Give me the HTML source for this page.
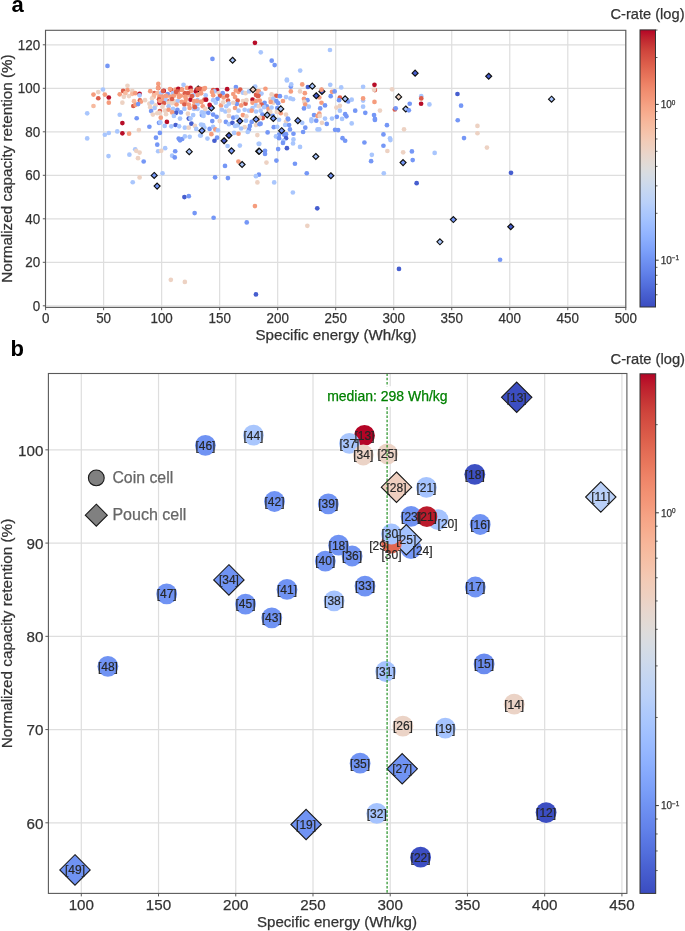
<!DOCTYPE html><html><head><meta charset="utf-8"><style>html,body{margin:0;padding:0;background:#fff;width:685px;height:931px;overflow:hidden}</style></head><body><svg width="685" height="931" viewBox="0 0 685 931" style="display:block;will-change:transform;font-family:'Liberation Sans', sans-serif">
<defs><linearGradient id="cb" x1="0" y1="0" x2="0" y2="1"><stop offset="0.0000" stop-color="#b40426"/><stop offset="0.0250" stop-color="#bd1f2d"/><stop offset="0.0500" stop-color="#c53334"/><stop offset="0.0750" stop-color="#cf453c"/><stop offset="0.1000" stop-color="#d65244"/><stop offset="0.1250" stop-color="#dd5f4b"/><stop offset="0.1500" stop-color="#e36c55"/><stop offset="0.1750" stop-color="#e9785d"/><stop offset="0.2000" stop-color="#ee8468"/><stop offset="0.2250" stop-color="#f18f71"/><stop offset="0.2500" stop-color="#f4987a"/><stop offset="0.2750" stop-color="#f6a385"/><stop offset="0.3000" stop-color="#f7ac8e"/><stop offset="0.3250" stop-color="#f7b599"/><stop offset="0.3500" stop-color="#f6bda2"/><stop offset="0.3750" stop-color="#f5c4ac"/><stop offset="0.4000" stop-color="#f2cbb7"/><stop offset="0.4250" stop-color="#eed0c0"/><stop offset="0.4500" stop-color="#e9d5cb"/><stop offset="0.4750" stop-color="#e3d9d3"/><stop offset="0.5000" stop-color="#dddcdc"/><stop offset="0.5250" stop-color="#d6dce4"/><stop offset="0.5500" stop-color="#cfdaea"/><stop offset="0.5750" stop-color="#c7d7f0"/><stop offset="0.6000" stop-color="#c0d4f5"/><stop offset="0.6250" stop-color="#b9d0f9"/><stop offset="0.6500" stop-color="#afcafc"/><stop offset="0.6750" stop-color="#a7c5fe"/><stop offset="0.7000" stop-color="#9ebeff"/><stop offset="0.7250" stop-color="#96b7ff"/><stop offset="0.7500" stop-color="#8db0fe"/><stop offset="0.7750" stop-color="#84a7fc"/><stop offset="0.8000" stop-color="#7b9ff9"/><stop offset="0.8250" stop-color="#7295f4"/><stop offset="0.8500" stop-color="#6a8bef"/><stop offset="0.8750" stop-color="#6282ea"/><stop offset="0.9000" stop-color="#5977e3"/><stop offset="0.9250" stop-color="#516ddb"/><stop offset="0.9500" stop-color="#4961d2"/><stop offset="0.9750" stop-color="#4257c9"/><stop offset="1.0000" stop-color="#3b4cc0"/></linearGradient></defs>
<line x1="45.60" y1="30.0" x2="45.60" y2="307.4" stroke="#dedede" stroke-width="1.2"/>
<line x1="103.62" y1="30.0" x2="103.62" y2="307.4" stroke="#dedede" stroke-width="1.2"/>
<line x1="161.64" y1="30.0" x2="161.64" y2="307.4" stroke="#dedede" stroke-width="1.2"/>
<line x1="219.66" y1="30.0" x2="219.66" y2="307.4" stroke="#dedede" stroke-width="1.2"/>
<line x1="277.68" y1="30.0" x2="277.68" y2="307.4" stroke="#dedede" stroke-width="1.2"/>
<line x1="335.70" y1="30.0" x2="335.70" y2="307.4" stroke="#dedede" stroke-width="1.2"/>
<line x1="393.72" y1="30.0" x2="393.72" y2="307.4" stroke="#dedede" stroke-width="1.2"/>
<line x1="451.74" y1="30.0" x2="451.74" y2="307.4" stroke="#dedede" stroke-width="1.2"/>
<line x1="509.76" y1="30.0" x2="509.76" y2="307.4" stroke="#dedede" stroke-width="1.2"/>
<line x1="567.78" y1="30.0" x2="567.78" y2="307.4" stroke="#dedede" stroke-width="1.2"/>
<line x1="625.80" y1="30.0" x2="625.80" y2="307.4" stroke="#dedede" stroke-width="1.2"/>
<line x1="45.6" y1="305.80" x2="625.8" y2="305.80" stroke="#dedede" stroke-width="1.2"/>
<line x1="45.6" y1="262.30" x2="625.8" y2="262.30" stroke="#dedede" stroke-width="1.2"/>
<line x1="45.6" y1="218.80" x2="625.8" y2="218.80" stroke="#dedede" stroke-width="1.2"/>
<line x1="45.6" y1="175.30" x2="625.8" y2="175.30" stroke="#dedede" stroke-width="1.2"/>
<line x1="45.6" y1="131.80" x2="625.8" y2="131.80" stroke="#dedede" stroke-width="1.2"/>
<line x1="45.6" y1="88.30" x2="625.8" y2="88.30" stroke="#dedede" stroke-width="1.2"/>
<line x1="45.6" y1="44.80" x2="625.8" y2="44.80" stroke="#dedede" stroke-width="1.2"/>
<g>
<path d="M198.14 85.95L201.14 88.95L198.14 91.95L195.14 88.95Z" fill="#b70d28" stroke="#111" stroke-width="1.15"/>
<path d="M211.38 105.02L214.38 108.02L211.38 111.02L208.38 108.02Z" fill="#7597f6" stroke="#111" stroke-width="1.15"/>
<path d="M321.94 88.38L324.94 91.38L321.94 94.38L318.94 91.38Z" fill="#465ecf" stroke="#111" stroke-width="1.15"/>
<path d="M405.77 106.01L408.77 109.01L405.77 112.01L402.77 109.01Z" fill="#a9c6fd" stroke="#111" stroke-width="1.15"/>
<circle cx="107.48" cy="65.91" r="2.35" fill="#7597f6"/>
<circle cx="102.96" cy="89.49" r="2.35" fill="#a9c6fd"/>
<circle cx="93.47" cy="94.60" r="2.35" fill="#f59c7d"/>
<circle cx="98.28" cy="92.12" r="2.35" fill="#edd2c3"/>
<circle cx="98.28" cy="98.25" r="2.35" fill="#dc5d4a"/>
<circle cx="104.85" cy="94.60" r="2.35" fill="#f59c7d"/>
<circle cx="108.80" cy="97.52" r="2.35" fill="#b70d28"/>
<circle cx="108.80" cy="102.63" r="2.35" fill="#f59c7d"/>
<circle cx="93.47" cy="105.99" r="2.35" fill="#f7ba9f"/>
<circle cx="87.19" cy="113.28" r="2.35" fill="#a9c6fd"/>
<circle cx="119.74" cy="94.31" r="2.35" fill="#f59c7d"/>
<circle cx="123.10" cy="90.95" r="2.35" fill="#dc5d4a"/>
<circle cx="127.48" cy="85.84" r="2.35" fill="#edd2c3"/>
<circle cx="127.48" cy="90.22" r="2.35" fill="#f59c7d"/>
<circle cx="125.29" cy="93.14" r="2.35" fill="#f7ba9f"/>
<circle cx="123.83" cy="96.79" r="2.35" fill="#edd2c3"/>
<circle cx="128.94" cy="96.06" r="2.35" fill="#edd2c3"/>
<circle cx="132.30" cy="90.95" r="2.35" fill="#edd2c3"/>
<circle cx="132.30" cy="93.87" r="2.35" fill="#f7ba9f"/>
<circle cx="135.22" cy="93.14" r="2.35" fill="#f59c7d"/>
<circle cx="139.60" cy="93.87" r="2.35" fill="#b70d28"/>
<circle cx="139.60" cy="95.33" r="2.35" fill="#a9c6fd"/>
<circle cx="122.37" cy="102.63" r="2.35" fill="#edd2c3"/>
<circle cx="134.05" cy="101.17" r="2.35" fill="#f7ba9f"/>
<circle cx="139.89" cy="100.44" r="2.35" fill="#dc5d4a"/>
<circle cx="141.06" cy="101.61" r="2.35" fill="#f59c7d"/>
<circle cx="133.32" cy="105.99" r="2.35" fill="#dc5d4a"/>
<circle cx="135.51" cy="104.82" r="2.35" fill="#f59c7d"/>
<circle cx="138.14" cy="104.09" r="2.35" fill="#7597f6"/>
<circle cx="119.74" cy="114.74" r="2.35" fill="#a9c6fd"/>
<circle cx="136.68" cy="118.25" r="2.35" fill="#7597f6"/>
<circle cx="122.37" cy="123.07" r="2.35" fill="#b70d28"/>
<circle cx="138.87" cy="130.07" r="2.35" fill="#edd2c3"/>
<circle cx="117.26" cy="131.39" r="2.35" fill="#a9c6fd"/>
<circle cx="108.80" cy="132.99" r="2.35" fill="#a9c6fd"/>
<circle cx="104.85" cy="134.74" r="2.35" fill="#a9c6fd"/>
<circle cx="122.37" cy="133.28" r="2.35" fill="#b70d28"/>
<circle cx="129.09" cy="133.72" r="2.35" fill="#f59c7d"/>
<circle cx="87.19" cy="138.39" r="2.35" fill="#a9c6fd"/>
<circle cx="135.22" cy="149.34" r="2.35" fill="#a9c6fd"/>
<circle cx="136.24" cy="150.84" r="2.35" fill="#edd2c3"/>
<circle cx="139.60" cy="152.59" r="2.35" fill="#edd2c3"/>
<circle cx="108.50" cy="156.09" r="2.35" fill="#a9c6fd"/>
<circle cx="129.38" cy="154.64" r="2.35" fill="#a9c6fd"/>
<circle cx="137.99" cy="158.14" r="2.35" fill="#edd2c3"/>
<circle cx="143.69" cy="161.50" r="2.35" fill="#7597f6"/>
<circle cx="139.60" cy="177.41" r="2.35" fill="#edd2c3"/>
<circle cx="132.74" cy="182.23" r="2.35" fill="#a9c6fd"/>
<circle cx="212.45" cy="58.91" r="2.35" fill="#7597f6"/>
<circle cx="158.31" cy="83.94" r="2.35" fill="#f59c7d"/>
<circle cx="158.31" cy="88.06" r="2.35" fill="#dc5d4a"/>
<circle cx="150.25" cy="91.21" r="2.35" fill="#f59c7d"/>
<circle cx="154.63" cy="93.13" r="2.35" fill="#dc5d4a"/>
<circle cx="157.26" cy="93.13" r="2.35" fill="#f7ba9f"/>
<circle cx="161.20" cy="93.13" r="2.35" fill="#a9c6fd"/>
<circle cx="163.83" cy="90.95" r="2.35" fill="#b70d28"/>
<circle cx="167.77" cy="94.01" r="2.35" fill="#7597f6"/>
<circle cx="171.27" cy="90.07" r="2.35" fill="#dc5d4a"/>
<circle cx="173.02" cy="93.13" r="2.35" fill="#a9c6fd"/>
<circle cx="175.65" cy="89.63" r="2.35" fill="#f59c7d"/>
<circle cx="178.27" cy="88.76" r="2.35" fill="#b70d28"/>
<circle cx="177.40" cy="91.38" r="2.35" fill="#dc5d4a"/>
<circle cx="181.78" cy="89.63" r="2.35" fill="#dc5d4a"/>
<circle cx="184.84" cy="93.13" r="2.35" fill="#dc5d4a"/>
<circle cx="183.53" cy="84.82" r="2.35" fill="#a9c6fd"/>
<circle cx="187.03" cy="87.88" r="2.35" fill="#f59c7d"/>
<circle cx="190.53" cy="87.88" r="2.35" fill="#b70d28"/>
<circle cx="190.97" cy="90.95" r="2.35" fill="#f59c7d"/>
<circle cx="195.79" cy="91.38" r="2.35" fill="#b70d28"/>
<circle cx="197.54" cy="88.76" r="2.35" fill="#dc5d4a"/>
<circle cx="199.29" cy="88.76" r="2.35" fill="#dc5d4a"/>
<circle cx="202.79" cy="88.76" r="2.35" fill="#f59c7d"/>
<circle cx="201.04" cy="93.13" r="2.35" fill="#f59c7d"/>
<circle cx="197.54" cy="94.89" r="2.35" fill="#f59c7d"/>
<circle cx="193.16" cy="95.32" r="2.35" fill="#a9c6fd"/>
<circle cx="188.78" cy="94.89" r="2.35" fill="#f7ba9f"/>
<circle cx="185.28" cy="96.64" r="2.35" fill="#f59c7d"/>
<circle cx="180.90" cy="95.76" r="2.35" fill="#f59c7d"/>
<circle cx="178.27" cy="94.01" r="2.35" fill="#f59c7d"/>
<circle cx="173.90" cy="95.76" r="2.35" fill="#f59c7d"/>
<circle cx="170.39" cy="96.64" r="2.35" fill="#f59c7d"/>
<circle cx="166.02" cy="95.76" r="2.35" fill="#f59c7d"/>
<circle cx="162.51" cy="96.64" r="2.35" fill="#f59c7d"/>
<circle cx="159.45" cy="96.64" r="2.35" fill="#f59c7d"/>
<circle cx="153.76" cy="96.64" r="2.35" fill="#f7ba9f"/>
<circle cx="152.01" cy="98.39" r="2.35" fill="#edd2c3"/>
<circle cx="159.01" cy="99.26" r="2.35" fill="#dc5d4a"/>
<circle cx="163.83" cy="100.14" r="2.35" fill="#f59c7d"/>
<circle cx="166.02" cy="100.14" r="2.35" fill="#a9c6fd"/>
<circle cx="169.52" cy="101.02" r="2.35" fill="#dc5d4a"/>
<circle cx="171.27" cy="99.26" r="2.35" fill="#edd2c3"/>
<circle cx="173.90" cy="101.02" r="2.35" fill="#edd2c3"/>
<circle cx="177.84" cy="101.02" r="2.35" fill="#a9c6fd"/>
<circle cx="181.78" cy="101.89" r="2.35" fill="#f59c7d"/>
<circle cx="185.28" cy="101.89" r="2.35" fill="#f59c7d"/>
<circle cx="190.53" cy="99.70" r="2.35" fill="#b70d28"/>
<circle cx="194.04" cy="101.02" r="2.35" fill="#f59c7d"/>
<circle cx="197.54" cy="100.14" r="2.35" fill="#a9c6fd"/>
<circle cx="201.04" cy="101.89" r="2.35" fill="#f59c7d"/>
<circle cx="204.54" cy="99.70" r="2.35" fill="#dc5d4a"/>
<circle cx="159.45" cy="102.94" r="2.35" fill="#b70d28"/>
<circle cx="163.83" cy="103.20" r="2.35" fill="#dc5d4a"/>
<circle cx="168.64" cy="102.94" r="2.35" fill="#edd2c3"/>
<circle cx="172.15" cy="103.20" r="2.35" fill="#edd2c3"/>
<circle cx="176.52" cy="104.52" r="2.35" fill="#f59c7d"/>
<circle cx="184.40" cy="104.52" r="2.35" fill="#dc5d4a"/>
<circle cx="188.78" cy="104.52" r="2.35" fill="#f59c7d"/>
<circle cx="194.04" cy="105.39" r="2.35" fill="#f59c7d"/>
<circle cx="197.54" cy="104.08" r="2.35" fill="#a9c6fd"/>
<circle cx="202.79" cy="106.27" r="2.35" fill="#f59c7d"/>
<circle cx="145.00" cy="100.14" r="2.35" fill="#edd2c3"/>
<circle cx="149.38" cy="103.64" r="2.35" fill="#edd2c3"/>
<circle cx="152.01" cy="102.33" r="2.35" fill="#a9c6fd"/>
<circle cx="155.51" cy="105.39" r="2.35" fill="#edd2c3"/>
<circle cx="150.25" cy="107.15" r="2.35" fill="#edd2c3"/>
<circle cx="154.63" cy="108.02" r="2.35" fill="#a9c6fd"/>
<circle cx="162.51" cy="106.71" r="2.35" fill="#edd2c3"/>
<circle cx="168.64" cy="106.27" r="2.35" fill="#a9c6fd"/>
<circle cx="173.02" cy="108.90" r="2.35" fill="#a9c6fd"/>
<circle cx="177.40" cy="109.77" r="2.35" fill="#7597f6"/>
<circle cx="180.90" cy="112.40" r="2.35" fill="#7597f6"/>
<circle cx="176.09" cy="112.84" r="2.35" fill="#465ecf"/>
<circle cx="184.40" cy="108.90" r="2.35" fill="#a9c6fd"/>
<circle cx="189.66" cy="108.02" r="2.35" fill="#f59c7d"/>
<circle cx="194.04" cy="108.90" r="2.35" fill="#a9c6fd"/>
<circle cx="197.54" cy="108.90" r="2.35" fill="#a9c6fd"/>
<circle cx="194.91" cy="107.15" r="2.35" fill="#dc5d4a"/>
<circle cx="204.54" cy="112.40" r="2.35" fill="#a9c6fd"/>
<circle cx="201.92" cy="115.03" r="2.35" fill="#7597f6"/>
<circle cx="151.13" cy="111.09" r="2.35" fill="#7597f6"/>
<circle cx="159.89" cy="111.09" r="2.35" fill="#dc5d4a"/>
<circle cx="159.45" cy="112.84" r="2.35" fill="#edd2c3"/>
<circle cx="165.14" cy="110.65" r="2.35" fill="#edd2c3"/>
<circle cx="166.02" cy="114.15" r="2.35" fill="#edd2c3"/>
<circle cx="168.64" cy="109.77" r="2.35" fill="#f59c7d"/>
<circle cx="172.15" cy="112.40" r="2.35" fill="#f59c7d"/>
<circle cx="173.90" cy="115.90" r="2.35" fill="#a9c6fd"/>
<circle cx="180.03" cy="118.53" r="2.35" fill="#a9c6fd"/>
<circle cx="187.91" cy="113.71" r="2.35" fill="#edd2c3"/>
<circle cx="188.78" cy="118.53" r="2.35" fill="#465ecf"/>
<circle cx="193.16" cy="115.03" r="2.35" fill="#a9c6fd"/>
<circle cx="152.88" cy="114.59" r="2.35" fill="#edd2c3"/>
<circle cx="160.76" cy="117.65" r="2.35" fill="#f59c7d"/>
<circle cx="157.26" cy="113.27" r="2.35" fill="#edd2c3"/>
<circle cx="190.53" cy="118.53" r="2.35" fill="#a9c6fd"/>
<circle cx="200.00" cy="88.76" r="2.35" fill="#dc5d4a"/>
<circle cx="203.94" cy="89.19" r="2.35" fill="#f59c7d"/>
<circle cx="200.88" cy="93.13" r="2.35" fill="#f59c7d"/>
<circle cx="205.69" cy="95.32" r="2.35" fill="#a9c6fd"/>
<circle cx="206.13" cy="99.70" r="2.35" fill="#b70d28"/>
<circle cx="201.31" cy="101.89" r="2.35" fill="#f59c7d"/>
<circle cx="209.63" cy="104.96" r="2.35" fill="#b70d28"/>
<circle cx="205.25" cy="108.90" r="2.35" fill="#edd2c3"/>
<circle cx="213.13" cy="90.07" r="2.35" fill="#dc5d4a"/>
<circle cx="217.08" cy="90.07" r="2.35" fill="#b70d28"/>
<circle cx="214.45" cy="91.38" r="2.35" fill="#a9c6fd"/>
<circle cx="218.83" cy="93.13" r="2.35" fill="#edd2c3"/>
<circle cx="222.77" cy="93.13" r="2.35" fill="#7597f6"/>
<circle cx="213.13" cy="95.32" r="2.35" fill="#f59c7d"/>
<circle cx="220.14" cy="95.76" r="2.35" fill="#dc5d4a"/>
<circle cx="217.51" cy="98.83" r="2.35" fill="#7597f6"/>
<circle cx="223.64" cy="97.51" r="2.35" fill="#f59c7d"/>
<circle cx="227.15" cy="95.76" r="2.35" fill="#dc5d4a"/>
<circle cx="227.15" cy="89.19" r="2.35" fill="#b70d28"/>
<circle cx="228.02" cy="100.58" r="2.35" fill="#dc5d4a"/>
<circle cx="213.13" cy="100.14" r="2.35" fill="#a9c6fd"/>
<circle cx="215.76" cy="102.77" r="2.35" fill="#a9c6fd"/>
<circle cx="221.02" cy="105.39" r="2.35" fill="#f59c7d"/>
<circle cx="223.20" cy="102.33" r="2.35" fill="#edd2c3"/>
<circle cx="228.90" cy="103.64" r="2.35" fill="#a9c6fd"/>
<circle cx="226.27" cy="106.27" r="2.35" fill="#a9c6fd"/>
<circle cx="221.89" cy="109.77" r="2.35" fill="#a9c6fd"/>
<circle cx="225.39" cy="111.52" r="2.35" fill="#a9c6fd"/>
<circle cx="228.90" cy="110.65" r="2.35" fill="#edd2c3"/>
<circle cx="228.90" cy="115.90" r="2.35" fill="#edd2c3"/>
<circle cx="201.75" cy="112.40" r="2.35" fill="#a9c6fd"/>
<circle cx="208.32" cy="112.84" r="2.35" fill="#7597f6"/>
<circle cx="213.13" cy="114.59" r="2.35" fill="#7597f6"/>
<circle cx="216.64" cy="116.78" r="2.35" fill="#7597f6"/>
<circle cx="203.50" cy="115.90" r="2.35" fill="#a9c6fd"/>
<circle cx="233.27" cy="117.65" r="2.35" fill="#7597f6"/>
<circle cx="235.90" cy="87.01" r="2.35" fill="#7597f6"/>
<circle cx="235.90" cy="90.51" r="2.35" fill="#f59c7d"/>
<circle cx="238.53" cy="91.82" r="2.35" fill="#f59c7d"/>
<circle cx="240.28" cy="89.63" r="2.35" fill="#dc5d4a"/>
<circle cx="242.91" cy="92.70" r="2.35" fill="#a9c6fd"/>
<circle cx="245.53" cy="93.13" r="2.35" fill="#edd2c3"/>
<circle cx="233.27" cy="94.01" r="2.35" fill="#f59c7d"/>
<circle cx="235.03" cy="97.08" r="2.35" fill="#f59c7d"/>
<circle cx="237.65" cy="100.58" r="2.35" fill="#dc5d4a"/>
<circle cx="236.78" cy="104.08" r="2.35" fill="#7597f6"/>
<circle cx="233.27" cy="102.77" r="2.35" fill="#edd2c3"/>
<circle cx="241.16" cy="105.39" r="2.35" fill="#f59c7d"/>
<circle cx="235.03" cy="108.02" r="2.35" fill="#f59c7d"/>
<circle cx="238.53" cy="110.65" r="2.35" fill="#a9c6fd"/>
<circle cx="242.91" cy="101.02" r="2.35" fill="#edd2c3"/>
<circle cx="245.53" cy="103.64" r="2.35" fill="#dc5d4a"/>
<circle cx="246.41" cy="100.14" r="2.35" fill="#edd2c3"/>
<circle cx="249.04" cy="91.38" r="2.35" fill="#a9c6fd"/>
<circle cx="252.54" cy="99.70" r="2.35" fill="#b70d28"/>
<circle cx="256.04" cy="94.89" r="2.35" fill="#dc5d4a"/>
<circle cx="257.79" cy="96.20" r="2.35" fill="#dc5d4a"/>
<circle cx="257.79" cy="91.38" r="2.35" fill="#f59c7d"/>
<circle cx="255.17" cy="86.57" r="2.35" fill="#a9c6fd"/>
<circle cx="256.04" cy="101.02" r="2.35" fill="#f59c7d"/>
<circle cx="252.54" cy="102.77" r="2.35" fill="#f59c7d"/>
<circle cx="256.04" cy="105.39" r="2.35" fill="#a9c6fd"/>
<circle cx="252.54" cy="108.02" r="2.35" fill="#a9c6fd"/>
<circle cx="244.66" cy="109.77" r="2.35" fill="#a9c6fd"/>
<circle cx="249.04" cy="110.65" r="2.35" fill="#a9c6fd"/>
<circle cx="251.66" cy="110.65" r="2.35" fill="#f59c7d"/>
<circle cx="256.04" cy="111.52" r="2.35" fill="#a9c6fd"/>
<circle cx="242.91" cy="115.03" r="2.35" fill="#f59c7d"/>
<circle cx="246.41" cy="116.34" r="2.35" fill="#edd2c3"/>
<circle cx="236.78" cy="116.78" r="2.35" fill="#a9c6fd"/>
<circle cx="159.01" cy="122.82" r="2.35" fill="#7597f6"/>
<circle cx="160.32" cy="122.38" r="2.35" fill="#a9c6fd"/>
<circle cx="166.89" cy="121.94" r="2.35" fill="#b70d28"/>
<circle cx="164.70" cy="125.88" r="2.35" fill="#a9c6fd"/>
<circle cx="171.27" cy="126.32" r="2.35" fill="#a9c6fd"/>
<circle cx="175.65" cy="125.01" r="2.35" fill="#465ecf"/>
<circle cx="179.15" cy="126.32" r="2.35" fill="#a9c6fd"/>
<circle cx="149.38" cy="126.76" r="2.35" fill="#7597f6"/>
<circle cx="184.84" cy="127.63" r="2.35" fill="#a9c6fd"/>
<circle cx="188.78" cy="127.63" r="2.35" fill="#edd2c3"/>
<circle cx="191.41" cy="123.69" r="2.35" fill="#465ecf"/>
<circle cx="194.91" cy="125.88" r="2.35" fill="#edd2c3"/>
<circle cx="196.23" cy="128.95" r="2.35" fill="#a9c6fd"/>
<circle cx="201.04" cy="124.57" r="2.35" fill="#a9c6fd"/>
<circle cx="203.23" cy="125.01" r="2.35" fill="#a9c6fd"/>
<circle cx="200.17" cy="135.51" r="2.35" fill="#a9c6fd"/>
<circle cx="159.89" cy="132.89" r="2.35" fill="#7597f6"/>
<circle cx="155.95" cy="137.70" r="2.35" fill="#7597f6"/>
<circle cx="157.26" cy="144.71" r="2.35" fill="#7597f6"/>
<circle cx="165.14" cy="148.21" r="2.35" fill="#a9c6fd"/>
<circle cx="158.13" cy="151.27" r="2.35" fill="#a9c6fd"/>
<circle cx="161.20" cy="150.84" r="2.35" fill="#edd2c3"/>
<circle cx="175.21" cy="151.27" r="2.35" fill="#7597f6"/>
<circle cx="172.15" cy="155.65" r="2.35" fill="#a9c6fd"/>
<circle cx="174.77" cy="157.40" r="2.35" fill="#7597f6"/>
<circle cx="178.71" cy="138.58" r="2.35" fill="#7597f6"/>
<circle cx="180.03" cy="140.33" r="2.35" fill="#7597f6"/>
<circle cx="182.22" cy="139.02" r="2.35" fill="#7597f6"/>
<circle cx="184.84" cy="136.39" r="2.35" fill="#a9c6fd"/>
<circle cx="189.66" cy="136.83" r="2.35" fill="#a9c6fd"/>
<circle cx="212.26" cy="121.06" r="2.35" fill="#7597f6"/>
<circle cx="219.70" cy="121.06" r="2.35" fill="#edd2c3"/>
<circle cx="225.83" cy="121.94" r="2.35" fill="#7597f6"/>
<circle cx="228.90" cy="124.13" r="2.35" fill="#a9c6fd"/>
<circle cx="232.40" cy="122.82" r="2.35" fill="#465ecf"/>
<circle cx="235.03" cy="125.88" r="2.35" fill="#a9c6fd"/>
<circle cx="237.65" cy="125.44" r="2.35" fill="#a9c6fd"/>
<circle cx="245.97" cy="120.63" r="2.35" fill="#a9c6fd"/>
<circle cx="251.66" cy="121.94" r="2.35" fill="#7597f6"/>
<circle cx="249.91" cy="125.88" r="2.35" fill="#7597f6"/>
<circle cx="256.04" cy="125.01" r="2.35" fill="#edd2c3"/>
<circle cx="244.66" cy="127.19" r="2.35" fill="#edd2c3"/>
<circle cx="241.16" cy="128.51" r="2.35" fill="#a9c6fd"/>
<circle cx="249.04" cy="129.38" r="2.35" fill="#7597f6"/>
<circle cx="247.72" cy="132.01" r="2.35" fill="#a9c6fd"/>
<circle cx="257.79" cy="119.31" r="2.35" fill="#f59c7d"/>
<circle cx="259.54" cy="124.13" r="2.35" fill="#7597f6"/>
<circle cx="202.63" cy="125.01" r="2.35" fill="#a9c6fd"/>
<circle cx="204.38" cy="127.63" r="2.35" fill="#a9c6fd"/>
<circle cx="209.63" cy="128.95" r="2.35" fill="#7597f6"/>
<circle cx="213.13" cy="126.76" r="2.35" fill="#a9c6fd"/>
<circle cx="215.32" cy="129.38" r="2.35" fill="#f59c7d"/>
<circle cx="217.95" cy="130.26" r="2.35" fill="#a9c6fd"/>
<circle cx="211.38" cy="134.20" r="2.35" fill="#f59c7d"/>
<circle cx="200.88" cy="135.51" r="2.35" fill="#a9c6fd"/>
<circle cx="207.44" cy="138.58" r="2.35" fill="#a9c6fd"/>
<circle cx="217.08" cy="137.70" r="2.35" fill="#7597f6"/>
<circle cx="214.45" cy="140.77" r="2.35" fill="#465ecf"/>
<circle cx="234.15" cy="132.89" r="2.35" fill="#a9c6fd"/>
<circle cx="238.53" cy="133.76" r="2.35" fill="#f59c7d"/>
<circle cx="227.58" cy="146.02" r="2.35" fill="#a9c6fd"/>
<circle cx="239.84" cy="145.58" r="2.35" fill="#a9c6fd"/>
<circle cx="257.36" cy="135.08" r="2.35" fill="#edd2c3"/>
<circle cx="258.67" cy="143.83" r="2.35" fill="#a9c6fd"/>
<circle cx="162.52" cy="173.25" r="2.35" fill="#a9c6fd"/>
<circle cx="184.42" cy="197.04" r="2.35" fill="#465ecf"/>
<circle cx="188.80" cy="196.17" r="2.35" fill="#7597f6"/>
<circle cx="194.64" cy="213.10" r="2.35" fill="#7597f6"/>
<circle cx="213.61" cy="217.77" r="2.35" fill="#7597f6"/>
<circle cx="215.07" cy="177.34" r="2.35" fill="#7597f6"/>
<circle cx="225.00" cy="165.95" r="2.35" fill="#7597f6"/>
<circle cx="227.92" cy="178.07" r="2.35" fill="#7597f6"/>
<circle cx="238.43" cy="161.57" r="2.35" fill="#f59c7d"/>
<circle cx="170.84" cy="279.85" r="2.35" fill="#edd2c3"/>
<circle cx="184.85" cy="281.90" r="2.35" fill="#edd2c3"/>
<circle cx="254.93" cy="42.85" r="2.35" fill="#b70d28"/>
<circle cx="260.77" cy="52.34" r="2.35" fill="#a9c6fd"/>
<circle cx="271.72" cy="60.66" r="2.35" fill="#7597f6"/>
<circle cx="274.64" cy="65.04" r="2.35" fill="#7597f6"/>
<circle cx="300.18" cy="70.58" r="2.35" fill="#a9c6fd"/>
<circle cx="286.90" cy="79.64" r="2.35" fill="#a9c6fd"/>
<circle cx="329.96" cy="50.00" r="2.35" fill="#a9c6fd"/>
<circle cx="265.44" cy="88.76" r="2.35" fill="#f59c7d"/>
<circle cx="258.88" cy="91.38" r="2.35" fill="#f59c7d"/>
<circle cx="261.50" cy="93.57" r="2.35" fill="#a9c6fd"/>
<circle cx="258.44" cy="95.76" r="2.35" fill="#dc5d4a"/>
<circle cx="259.75" cy="100.58" r="2.35" fill="#f59c7d"/>
<circle cx="264.57" cy="102.77" r="2.35" fill="#7597f6"/>
<circle cx="261.50" cy="104.52" r="2.35" fill="#dc5d4a"/>
<circle cx="266.76" cy="106.27" r="2.35" fill="#7597f6"/>
<circle cx="264.13" cy="107.15" r="2.35" fill="#a9c6fd"/>
<circle cx="268.51" cy="108.90" r="2.35" fill="#f59c7d"/>
<circle cx="271.57" cy="107.58" r="2.35" fill="#a9c6fd"/>
<circle cx="258.88" cy="106.27" r="2.35" fill="#edd2c3"/>
<circle cx="260.63" cy="110.65" r="2.35" fill="#a9c6fd"/>
<circle cx="262.38" cy="114.59" r="2.35" fill="#7597f6"/>
<circle cx="270.26" cy="111.96" r="2.35" fill="#edd2c3"/>
<circle cx="272.89" cy="115.90" r="2.35" fill="#7597f6"/>
<circle cx="262.82" cy="118.09" r="2.35" fill="#dc5d4a"/>
<circle cx="259.75" cy="117.65" r="2.35" fill="#edd2c3"/>
<circle cx="271.57" cy="94.45" r="2.35" fill="#edd2c3"/>
<circle cx="274.20" cy="95.76" r="2.35" fill="#edd2c3"/>
<circle cx="276.39" cy="95.76" r="2.35" fill="#dc5d4a"/>
<circle cx="279.89" cy="96.20" r="2.35" fill="#7597f6"/>
<circle cx="270.26" cy="98.83" r="2.35" fill="#edd2c3"/>
<circle cx="273.32" cy="98.83" r="2.35" fill="#a9c6fd"/>
<circle cx="273.32" cy="102.77" r="2.35" fill="#edd2c3"/>
<circle cx="270.70" cy="101.89" r="2.35" fill="#f59c7d"/>
<circle cx="276.39" cy="101.02" r="2.35" fill="#7597f6"/>
<circle cx="278.14" cy="103.20" r="2.35" fill="#7597f6"/>
<circle cx="277.26" cy="108.02" r="2.35" fill="#7597f6"/>
<circle cx="276.83" cy="111.96" r="2.35" fill="#edd2c3"/>
<circle cx="280.77" cy="113.27" r="2.35" fill="#f59c7d"/>
<circle cx="286.02" cy="114.59" r="2.35" fill="#edd2c3"/>
<circle cx="282.96" cy="101.02" r="2.35" fill="#f59c7d"/>
<circle cx="286.02" cy="97.08" r="2.35" fill="#a9c6fd"/>
<circle cx="290.40" cy="98.39" r="2.35" fill="#a9c6fd"/>
<circle cx="293.03" cy="99.26" r="2.35" fill="#a9c6fd"/>
<circle cx="290.84" cy="91.38" r="2.35" fill="#f59c7d"/>
<circle cx="290.84" cy="86.57" r="2.35" fill="#7597f6"/>
<circle cx="291.27" cy="84.38" r="2.35" fill="#a9c6fd"/>
<circle cx="286.90" cy="80.44" r="2.35" fill="#a9c6fd"/>
<circle cx="302.22" cy="84.38" r="2.35" fill="#f59c7d"/>
<circle cx="300.03" cy="91.38" r="2.35" fill="#edd2c3"/>
<circle cx="304.85" cy="93.13" r="2.35" fill="#f59c7d"/>
<circle cx="307.91" cy="87.01" r="2.35" fill="#465ecf"/>
<circle cx="303.97" cy="98.83" r="2.35" fill="#f59c7d"/>
<circle cx="307.47" cy="100.14" r="2.35" fill="#7597f6"/>
<circle cx="304.41" cy="101.89" r="2.35" fill="#edd2c3"/>
<circle cx="305.29" cy="104.52" r="2.35" fill="#f59c7d"/>
<circle cx="308.79" cy="106.71" r="2.35" fill="#a9c6fd"/>
<circle cx="303.97" cy="108.46" r="2.35" fill="#7597f6"/>
<circle cx="314.04" cy="115.03" r="2.35" fill="#7597f6"/>
<circle cx="287.77" cy="118.53" r="2.35" fill="#7597f6"/>
<circle cx="311.42" cy="119.40" r="2.35" fill="#a9c6fd"/>
<circle cx="317.54" cy="115.90" r="2.35" fill="#f59c7d"/>
<circle cx="260.63" cy="123.69" r="2.35" fill="#7597f6"/>
<circle cx="267.63" cy="132.45" r="2.35" fill="#7597f6"/>
<circle cx="273.76" cy="127.19" r="2.35" fill="#7597f6"/>
<circle cx="277.26" cy="126.76" r="2.35" fill="#a9c6fd"/>
<circle cx="279.02" cy="119.75" r="2.35" fill="#a9c6fd"/>
<circle cx="286.02" cy="121.50" r="2.35" fill="#edd2c3"/>
<circle cx="288.21" cy="119.31" r="2.35" fill="#7597f6"/>
<circle cx="285.15" cy="125.01" r="2.35" fill="#a9c6fd"/>
<circle cx="289.09" cy="125.01" r="2.35" fill="#7597f6"/>
<circle cx="289.96" cy="129.38" r="2.35" fill="#7597f6"/>
<circle cx="279.02" cy="134.64" r="2.35" fill="#7597f6"/>
<circle cx="275.95" cy="136.39" r="2.35" fill="#a9c6fd"/>
<circle cx="279.02" cy="138.14" r="2.35" fill="#7597f6"/>
<circle cx="284.27" cy="134.64" r="2.35" fill="#7597f6"/>
<circle cx="286.02" cy="134.20" r="2.35" fill="#7597f6"/>
<circle cx="286.02" cy="138.14" r="2.35" fill="#465ecf"/>
<circle cx="283.39" cy="140.77" r="2.35" fill="#a9c6fd"/>
<circle cx="282.96" cy="142.96" r="2.35" fill="#7597f6"/>
<circle cx="293.46" cy="133.76" r="2.35" fill="#7597f6"/>
<circle cx="293.46" cy="139.45" r="2.35" fill="#a9c6fd"/>
<circle cx="293.03" cy="143.39" r="2.35" fill="#a9c6fd"/>
<circle cx="300.03" cy="146.90" r="2.35" fill="#a9c6fd"/>
<circle cx="286.90" cy="148.21" r="2.35" fill="#465ecf"/>
<circle cx="278.14" cy="149.09" r="2.35" fill="#7597f6"/>
<circle cx="265.01" cy="150.84" r="2.35" fill="#7597f6"/>
<circle cx="265.01" cy="153.90" r="2.35" fill="#7597f6"/>
<circle cx="259.31" cy="143.83" r="2.35" fill="#a9c6fd"/>
<circle cx="302.22" cy="122.82" r="2.35" fill="#a9c6fd"/>
<circle cx="305.29" cy="127.63" r="2.35" fill="#7597f6"/>
<circle cx="303.10" cy="132.01" r="2.35" fill="#7597f6"/>
<circle cx="311.42" cy="121.06" r="2.35" fill="#a9c6fd"/>
<circle cx="316.23" cy="120.63" r="2.35" fill="#7597f6"/>
<circle cx="317.54" cy="129.38" r="2.35" fill="#a9c6fd"/>
<circle cx="266.46" cy="162.59" r="2.35" fill="#edd2c3"/>
<circle cx="276.39" cy="160.55" r="2.35" fill="#7597f6"/>
<circle cx="294.93" cy="163.76" r="2.35" fill="#7597f6"/>
<circle cx="258.87" cy="174.71" r="2.35" fill="#7597f6"/>
<circle cx="255.95" cy="176.17" r="2.35" fill="#a9c6fd"/>
<circle cx="257.41" cy="182.45" r="2.35" fill="#edd2c3"/>
<circle cx="274.20" cy="182.45" r="2.35" fill="#a9c6fd"/>
<circle cx="306.75" cy="173.25" r="2.35" fill="#7597f6"/>
<circle cx="292.88" cy="192.52" r="2.35" fill="#a9c6fd"/>
<circle cx="254.93" cy="206.09" r="2.35" fill="#f59c7d"/>
<circle cx="317.26" cy="208.28" r="2.35" fill="#465ecf"/>
<circle cx="246.75" cy="222.45" r="2.35" fill="#7597f6"/>
<circle cx="307.34" cy="225.84" r="2.35" fill="#edd2c3"/>
<circle cx="255.95" cy="294.45" r="2.35" fill="#465ecf"/>
<circle cx="330.26" cy="84.82" r="2.35" fill="#a9c6fd"/>
<circle cx="341.20" cy="87.44" r="2.35" fill="#a9c6fd"/>
<circle cx="363.10" cy="86.83" r="2.35" fill="#a9c6fd"/>
<circle cx="374.48" cy="84.82" r="2.35" fill="#b70d28"/>
<circle cx="374.92" cy="90.07" r="2.35" fill="#dc5d4a"/>
<circle cx="374.04" cy="89.63" r="2.35" fill="#edd2c3"/>
<circle cx="321.50" cy="89.63" r="2.35" fill="#f59c7d"/>
<circle cx="319.31" cy="97.51" r="2.35" fill="#f59c7d"/>
<circle cx="332.01" cy="91.82" r="2.35" fill="#f59c7d"/>
<circle cx="334.64" cy="91.38" r="2.35" fill="#7597f6"/>
<circle cx="330.70" cy="96.20" r="2.35" fill="#7597f6"/>
<circle cx="339.89" cy="97.51" r="2.35" fill="#dc5d4a"/>
<circle cx="339.02" cy="100.14" r="2.35" fill="#7597f6"/>
<circle cx="348.21" cy="101.45" r="2.35" fill="#7597f6"/>
<circle cx="351.71" cy="99.70" r="2.35" fill="#a9c6fd"/>
<circle cx="321.50" cy="102.77" r="2.35" fill="#f59c7d"/>
<circle cx="325.01" cy="105.39" r="2.35" fill="#7597f6"/>
<circle cx="320.19" cy="108.46" r="2.35" fill="#7597f6"/>
<circle cx="319.31" cy="113.71" r="2.35" fill="#f59c7d"/>
<circle cx="319.75" cy="115.90" r="2.35" fill="#edd2c3"/>
<circle cx="336.39" cy="107.58" r="2.35" fill="#edd2c3"/>
<circle cx="339.89" cy="105.83" r="2.35" fill="#edd2c3"/>
<circle cx="339.89" cy="110.65" r="2.35" fill="#a9c6fd"/>
<circle cx="345.15" cy="114.15" r="2.35" fill="#7597f6"/>
<circle cx="346.46" cy="116.34" r="2.35" fill="#7597f6"/>
<circle cx="336.83" cy="116.78" r="2.35" fill="#7597f6"/>
<circle cx="325.01" cy="118.53" r="2.35" fill="#a9c6fd"/>
<circle cx="332.01" cy="118.53" r="2.35" fill="#a9c6fd"/>
<circle cx="342.08" cy="118.97" r="2.35" fill="#a9c6fd"/>
<circle cx="355.22" cy="110.65" r="2.35" fill="#7597f6"/>
<circle cx="363.10" cy="106.71" r="2.35" fill="#a9c6fd"/>
<circle cx="363.10" cy="100.58" r="2.35" fill="#a9c6fd"/>
<circle cx="363.10" cy="98.39" r="2.35" fill="#f59c7d"/>
<circle cx="365.29" cy="112.84" r="2.35" fill="#7597f6"/>
<circle cx="374.48" cy="101.89" r="2.35" fill="#f59c7d"/>
<circle cx="374.04" cy="115.03" r="2.35" fill="#7597f6"/>
<circle cx="374.92" cy="118.97" r="2.35" fill="#7597f6"/>
<circle cx="321.94" cy="122.82" r="2.35" fill="#edd2c3"/>
<circle cx="326.76" cy="123.95" r="2.35" fill="#7597f6"/>
<circle cx="319.31" cy="129.38" r="2.35" fill="#a9c6fd"/>
<circle cx="335.08" cy="129.82" r="2.35" fill="#7597f6"/>
<circle cx="338.14" cy="130.08" r="2.35" fill="#7597f6"/>
<circle cx="351.71" cy="123.43" r="2.35" fill="#a9c6fd"/>
<circle cx="374.92" cy="119.93" r="2.35" fill="#7597f6"/>
<circle cx="342.52" cy="138.14" r="2.35" fill="#7597f6"/>
<circle cx="345.15" cy="140.77" r="2.35" fill="#7597f6"/>
<circle cx="364.41" cy="142.52" r="2.35" fill="#7597f6"/>
<circle cx="371.85" cy="154.78" r="2.35" fill="#a9c6fd"/>
<circle cx="371.09" cy="161.13" r="2.35" fill="#7597f6"/>
<circle cx="383.80" cy="173.25" r="2.35" fill="#a9c6fd"/>
<circle cx="412.70" cy="160.11" r="2.35" fill="#7597f6"/>
<circle cx="416.64" cy="183.18" r="2.35" fill="#465ecf"/>
<circle cx="398.98" cy="268.91" r="2.35" fill="#465ecf"/>
<circle cx="392.06" cy="89.34" r="2.35" fill="#edd2c3"/>
<circle cx="421.26" cy="96.20" r="2.35" fill="#a9c6fd"/>
<circle cx="421.26" cy="98.39" r="2.35" fill="#dc5d4a"/>
<circle cx="457.46" cy="94.01" r="2.35" fill="#465ecf"/>
<circle cx="421.10" cy="103.76" r="2.35" fill="#b70d28"/>
<circle cx="429.42" cy="104.46" r="2.35" fill="#a9c6fd"/>
<circle cx="409.71" cy="103.76" r="2.35" fill="#7597f6"/>
<circle cx="379.94" cy="110.59" r="2.35" fill="#edd2c3"/>
<circle cx="394.83" cy="109.45" r="2.35" fill="#dc5d4a"/>
<circle cx="395.70" cy="108.31" r="2.35" fill="#7597f6"/>
<circle cx="408.84" cy="110.32" r="2.35" fill="#7597f6"/>
<circle cx="386.95" cy="125.21" r="2.35" fill="#7597f6"/>
<circle cx="404.02" cy="129.33" r="2.35" fill="#edd2c3"/>
<circle cx="383.44" cy="134.40" r="2.35" fill="#7597f6"/>
<circle cx="390.01" cy="138.32" r="2.35" fill="#a9c6fd"/>
<circle cx="390.45" cy="140.07" r="2.35" fill="#a9c6fd"/>
<circle cx="383.44" cy="145.76" r="2.35" fill="#7597f6"/>
<circle cx="387.38" cy="151.02" r="2.35" fill="#edd2c3"/>
<circle cx="403.15" cy="152.33" r="2.35" fill="#edd2c3"/>
<circle cx="411.90" cy="151.45" r="2.35" fill="#7597f6"/>
<circle cx="434.67" cy="152.94" r="2.35" fill="#a9c6fd"/>
<circle cx="461.09" cy="105.66" r="2.35" fill="#7597f6"/>
<circle cx="457.74" cy="120.26" r="2.35" fill="#7597f6"/>
<circle cx="477.45" cy="125.95" r="2.35" fill="#edd2c3"/>
<circle cx="477.45" cy="133.25" r="2.35" fill="#edd2c3"/>
<circle cx="464.01" cy="138.07" r="2.35" fill="#7597f6"/>
<circle cx="486.93" cy="147.55" r="2.35" fill="#edd2c3"/>
<circle cx="511.02" cy="172.85" r="2.35" fill="#465ecf"/>
<circle cx="500.07" cy="259.74" r="2.35" fill="#7597f6"/>
<circle cx="158.00" cy="88.00" r="2.35" fill="#f59c7d"/>
<circle cx="163.00" cy="91.00" r="2.35" fill="#dc5d4a"/>
<circle cx="170.00" cy="89.00" r="2.35" fill="#f59c7d"/>
<circle cx="176.00" cy="92.00" r="2.35" fill="#dc5d4a"/>
<circle cx="182.00" cy="90.00" r="2.35" fill="#f59c7d"/>
<circle cx="188.00" cy="93.00" r="2.35" fill="#dc5d4a"/>
<circle cx="166.00" cy="96.00" r="2.35" fill="#f59c7d"/>
<circle cx="172.00" cy="99.00" r="2.35" fill="#dc5d4a"/>
<circle cx="179.00" cy="97.00" r="2.35" fill="#f59c7d"/>
<circle cx="186.00" cy="99.00" r="2.35" fill="#f59c7d"/>
<circle cx="192.00" cy="96.00" r="2.35" fill="#dc5d4a"/>
<circle cx="160.00" cy="101.00" r="2.35" fill="#f59c7d"/>
<circle cx="197.00" cy="101.00" r="2.35" fill="#f59c7d"/>
<circle cx="205.00" cy="88.00" r="2.35" fill="#f59c7d"/>
<circle cx="212.00" cy="92.00" r="2.35" fill="#f59c7d"/>
<circle cx="154.00" cy="95.00" r="2.35" fill="#f7ba9f"/>
<path d="M232.59 57.22L235.59 60.22L232.59 63.22L229.59 60.22Z" fill="#a9c6fd" stroke="#111" stroke-width="1.15"/>
<path d="M252.98 86.63L255.98 89.63L252.98 92.63L249.98 89.63Z" fill="#edd2c3" stroke="#111" stroke-width="1.15"/>
<path d="M201.92 127.70L204.92 130.70L201.92 133.70L198.92 130.70Z" fill="#7597f6" stroke="#111" stroke-width="1.15"/>
<path d="M189.22 148.71L192.22 151.71L189.22 154.71L186.22 151.71Z" fill="#a9c6fd" stroke="#111" stroke-width="1.15"/>
<path d="M239.84 118.06L242.84 121.06L239.84 124.06L236.84 121.06Z" fill="#465ecf" stroke="#111" stroke-width="1.15"/>
<path d="M256.04 116.31L259.04 119.31L256.04 122.31L253.04 119.31Z" fill="#7597f6" stroke="#111" stroke-width="1.15"/>
<path d="M228.90 132.51L231.90 135.51L228.90 138.51L225.90 135.51Z" fill="#465ecf" stroke="#111" stroke-width="1.15"/>
<path d="M224.08 137.77L227.08 140.77L224.08 143.77L221.08 140.77Z" fill="#465ecf" stroke="#111" stroke-width="1.15"/>
<path d="M231.52 147.84L234.52 150.84L231.52 153.84L228.52 150.84Z" fill="#7597f6" stroke="#111" stroke-width="1.15"/>
<path d="M258.67 148.27L261.67 151.27L258.67 154.27L255.67 151.27Z" fill="#a9c6fd" stroke="#111" stroke-width="1.15"/>
<path d="M154.20 172.44L157.20 175.44L154.20 178.44L151.20 175.44Z" fill="#7597f6" stroke="#111" stroke-width="1.15"/>
<path d="M157.12 183.09L160.12 186.09L157.12 189.09L154.12 186.09Z" fill="#7597f6" stroke="#111" stroke-width="1.15"/>
<path d="M242.08 161.49L245.08 164.49L242.08 167.49L239.08 164.49Z" fill="#a9c6fd" stroke="#111" stroke-width="1.15"/>
<path d="M267.19 112.03L270.19 115.03L267.19 118.03L264.19 115.03Z" fill="#a9c6fd" stroke="#111" stroke-width="1.15"/>
<path d="M273.32 115.53L276.32 118.53L273.32 121.53L270.32 118.53Z" fill="#7597f6" stroke="#111" stroke-width="1.15"/>
<path d="M280.77 105.90L283.77 108.90L280.77 111.90L277.77 108.90Z" fill="#a9c6fd" stroke="#111" stroke-width="1.15"/>
<path d="M312.29 83.13L315.29 86.13L312.29 89.13L309.29 86.13Z" fill="#a9c6fd" stroke="#111" stroke-width="1.15"/>
<path d="M316.23 92.76L319.23 95.76L316.23 98.76L313.23 95.76Z" fill="#465ecf" stroke="#111" stroke-width="1.15"/>
<path d="M281.64 127.70L284.64 130.70L281.64 133.70L278.64 130.70Z" fill="#7597f6" stroke="#111" stroke-width="1.15"/>
<path d="M259.31 148.27L262.31 151.27L259.31 154.27L256.31 151.27Z" fill="#a9c6fd" stroke="#111" stroke-width="1.15"/>
<path d="M297.84 117.63L300.84 120.63L297.84 123.63L294.84 120.63Z" fill="#7597f6" stroke="#111" stroke-width="1.15"/>
<path d="M315.79 153.53L318.79 156.53L315.79 159.53L312.79 156.53Z" fill="#a9c6fd" stroke="#111" stroke-width="1.15"/>
<path d="M330.84 172.73L333.84 175.73L330.84 178.73L327.84 175.73Z" fill="#7597f6" stroke="#111" stroke-width="1.15"/>
<path d="M345.15 95.83L348.15 98.83L345.15 101.83L342.15 98.83Z" fill="#a9c6fd" stroke="#111" stroke-width="1.15"/>
<path d="M403.07 159.59L406.07 162.59L403.07 165.59L400.07 162.59Z" fill="#7597f6" stroke="#111" stroke-width="1.15"/>
<path d="M415.12 70.14L418.12 73.14L415.12 76.14L412.12 73.14Z" fill="#465ecf" stroke="#111" stroke-width="1.15"/>
<path d="M398.63 93.93L401.63 96.93L398.63 99.93L395.63 96.93Z" fill="#edd2c3" stroke="#111" stroke-width="1.15"/>
<path d="M488.69 73.28L491.69 76.28L488.69 79.28L485.69 76.28Z" fill="#465ecf" stroke="#111" stroke-width="1.15"/>
<path d="M453.36 216.56L456.36 219.56L453.36 222.56L450.36 219.56Z" fill="#7597f6" stroke="#111" stroke-width="1.15"/>
<path d="M510.73 223.72L513.73 226.72L510.73 229.72L507.73 226.72Z" fill="#465ecf" stroke="#111" stroke-width="1.15"/>
<path d="M439.93 238.79L442.93 241.79L439.93 244.79L436.93 241.79Z" fill="#a9c6fd" stroke="#111" stroke-width="1.15"/>
<path d="M551.55 96.20L554.55 99.20L551.55 102.20L548.55 99.20Z" fill="#a9c6fd" stroke="#111" stroke-width="1.15"/>
</g>
<rect x="45.5" y="30.3" width="580.3" height="277.1" fill="none" stroke="#5a5a5a" stroke-width="1.1"/>
<line x1="45.60" y1="307.4" x2="45.60" y2="310.2" stroke="#5a5a5a" stroke-width="1"/>
<text x="45.60" y="322.90" font-size="14.1" text-anchor="middle" fill="#333333" stroke="#333333" stroke-width="0.25" textLength="7.45" lengthAdjust="spacingAndGlyphs" >0</text>
<line x1="103.62" y1="307.4" x2="103.62" y2="310.2" stroke="#5a5a5a" stroke-width="1"/>
<text x="103.62" y="322.90" font-size="14.1" text-anchor="middle" fill="#333333" stroke="#333333" stroke-width="0.25" textLength="14.9" lengthAdjust="spacingAndGlyphs" >50</text>
<line x1="161.64" y1="307.4" x2="161.64" y2="310.2" stroke="#5a5a5a" stroke-width="1"/>
<text x="161.64" y="322.90" font-size="14.1" text-anchor="middle" fill="#333333" stroke="#333333" stroke-width="0.25" textLength="22.35" lengthAdjust="spacingAndGlyphs" >100</text>
<line x1="219.66" y1="307.4" x2="219.66" y2="310.2" stroke="#5a5a5a" stroke-width="1"/>
<text x="219.66" y="322.90" font-size="14.1" text-anchor="middle" fill="#333333" stroke="#333333" stroke-width="0.25" textLength="22.35" lengthAdjust="spacingAndGlyphs" >150</text>
<line x1="277.68" y1="307.4" x2="277.68" y2="310.2" stroke="#5a5a5a" stroke-width="1"/>
<text x="277.68" y="322.90" font-size="14.1" text-anchor="middle" fill="#333333" stroke="#333333" stroke-width="0.25" textLength="22.35" lengthAdjust="spacingAndGlyphs" >200</text>
<line x1="335.70" y1="307.4" x2="335.70" y2="310.2" stroke="#5a5a5a" stroke-width="1"/>
<text x="335.70" y="322.90" font-size="14.1" text-anchor="middle" fill="#333333" stroke="#333333" stroke-width="0.25" textLength="22.35" lengthAdjust="spacingAndGlyphs" >250</text>
<line x1="393.72" y1="307.4" x2="393.72" y2="310.2" stroke="#5a5a5a" stroke-width="1"/>
<text x="393.72" y="322.90" font-size="14.1" text-anchor="middle" fill="#333333" stroke="#333333" stroke-width="0.25" textLength="22.35" lengthAdjust="spacingAndGlyphs" >300</text>
<line x1="451.74" y1="307.4" x2="451.74" y2="310.2" stroke="#5a5a5a" stroke-width="1"/>
<text x="451.74" y="322.90" font-size="14.1" text-anchor="middle" fill="#333333" stroke="#333333" stroke-width="0.25" textLength="22.35" lengthAdjust="spacingAndGlyphs" >350</text>
<line x1="509.76" y1="307.4" x2="509.76" y2="310.2" stroke="#5a5a5a" stroke-width="1"/>
<text x="509.76" y="322.90" font-size="14.1" text-anchor="middle" fill="#333333" stroke="#333333" stroke-width="0.25" textLength="22.35" lengthAdjust="spacingAndGlyphs" >400</text>
<line x1="567.78" y1="307.4" x2="567.78" y2="310.2" stroke="#5a5a5a" stroke-width="1"/>
<text x="567.78" y="322.90" font-size="14.1" text-anchor="middle" fill="#333333" stroke="#333333" stroke-width="0.25" textLength="22.35" lengthAdjust="spacingAndGlyphs" >450</text>
<line x1="625.80" y1="307.4" x2="625.80" y2="310.2" stroke="#5a5a5a" stroke-width="1"/>
<text x="625.80" y="322.90" font-size="14.1" text-anchor="middle" fill="#333333" stroke="#333333" stroke-width="0.25" textLength="22.35" lengthAdjust="spacingAndGlyphs" >500</text>
<line x1="42.800000000000004" y1="305.80" x2="45.6" y2="305.80" stroke="#5a5a5a" stroke-width="1"/>
<text x="40.20" y="310.80" font-size="14.1" text-anchor="end" fill="#333333" stroke="#333333" stroke-width="0.25" textLength="7.45" lengthAdjust="spacingAndGlyphs" >0</text>
<line x1="42.800000000000004" y1="262.30" x2="45.6" y2="262.30" stroke="#5a5a5a" stroke-width="1"/>
<text x="40.20" y="267.30" font-size="14.1" text-anchor="end" fill="#333333" stroke="#333333" stroke-width="0.25" textLength="14.9" lengthAdjust="spacingAndGlyphs" >20</text>
<line x1="42.800000000000004" y1="218.80" x2="45.6" y2="218.80" stroke="#5a5a5a" stroke-width="1"/>
<text x="40.20" y="223.80" font-size="14.1" text-anchor="end" fill="#333333" stroke="#333333" stroke-width="0.25" textLength="14.9" lengthAdjust="spacingAndGlyphs" >40</text>
<line x1="42.800000000000004" y1="175.30" x2="45.6" y2="175.30" stroke="#5a5a5a" stroke-width="1"/>
<text x="40.20" y="180.30" font-size="14.1" text-anchor="end" fill="#333333" stroke="#333333" stroke-width="0.25" textLength="14.9" lengthAdjust="spacingAndGlyphs" >60</text>
<line x1="42.800000000000004" y1="131.80" x2="45.6" y2="131.80" stroke="#5a5a5a" stroke-width="1"/>
<text x="40.20" y="136.80" font-size="14.1" text-anchor="end" fill="#333333" stroke="#333333" stroke-width="0.25" textLength="14.9" lengthAdjust="spacingAndGlyphs" >80</text>
<line x1="42.800000000000004" y1="88.30" x2="45.6" y2="88.30" stroke="#5a5a5a" stroke-width="1"/>
<text x="40.20" y="93.30" font-size="14.1" text-anchor="end" fill="#333333" stroke="#333333" stroke-width="0.25" textLength="22.35" lengthAdjust="spacingAndGlyphs" >100</text>
<line x1="42.800000000000004" y1="44.80" x2="45.6" y2="44.80" stroke="#5a5a5a" stroke-width="1"/>
<text x="40.20" y="49.80" font-size="14.1" text-anchor="end" fill="#333333" stroke="#333333" stroke-width="0.25" textLength="22.35" lengthAdjust="spacingAndGlyphs" >120</text>
<text x="336.00" y="339.70" font-size="14.6" text-anchor="middle" fill="#333333" stroke="#333333" stroke-width="0.25" textLength="161" lengthAdjust="spacingAndGlyphs" >Specific energy (Wh/kg)</text>
<text x="0" y="0" font-size="14.6" text-anchor="middle" fill="#333333" stroke="#333333" stroke-width="0.25" textLength="228.5" lengthAdjust="spacingAndGlyphs" transform="translate(11.8 168.6) rotate(-90)">Normalized capacity retention (%)</text>
<text x="11.50" y="12.00" font-size="22" text-anchor="start" fill="#000" font-weight="bold" >a</text>
<rect x="640" y="29.9" width="15.5" height="277.1" fill="url(#cb)" stroke="#333" stroke-width="1"/>
<line x1="655.5" y1="294.76" x2="657.5" y2="294.76" stroke="#333" stroke-width="0.8"/>
<line x1="655.5" y1="284.33" x2="657.5" y2="284.33" stroke="#333" stroke-width="0.8"/>
<line x1="655.5" y1="275.30" x2="657.5" y2="275.30" stroke="#333" stroke-width="0.8"/>
<line x1="655.5" y1="267.33" x2="657.5" y2="267.33" stroke="#333" stroke-width="0.8"/>
<line x1="655.5" y1="213.30" x2="657.5" y2="213.30" stroke="#333" stroke-width="0.8"/>
<line x1="655.5" y1="185.86" x2="657.5" y2="185.86" stroke="#333" stroke-width="0.8"/>
<line x1="655.5" y1="166.40" x2="657.5" y2="166.40" stroke="#333" stroke-width="0.8"/>
<line x1="655.5" y1="151.30" x2="657.5" y2="151.30" stroke="#333" stroke-width="0.8"/>
<line x1="655.5" y1="138.96" x2="657.5" y2="138.96" stroke="#333" stroke-width="0.8"/>
<line x1="655.5" y1="128.53" x2="657.5" y2="128.53" stroke="#333" stroke-width="0.8"/>
<line x1="655.5" y1="119.50" x2="657.5" y2="119.50" stroke="#333" stroke-width="0.8"/>
<line x1="655.5" y1="111.53" x2="657.5" y2="111.53" stroke="#333" stroke-width="0.8"/>
<line x1="655.5" y1="57.50" x2="657.5" y2="57.50" stroke="#333" stroke-width="0.8"/>
<line x1="655.5" y1="30.06" x2="657.5" y2="30.06" stroke="#333" stroke-width="0.8"/>
<line x1="655.5" y1="104.40" x2="658.7" y2="104.40" stroke="#333" stroke-width="1"/>
<text x="660.7" y="108.20" font-size="10" fill="#333333" stroke="#333333" stroke-width="0.25">10<tspan dy="-3.6" font-size="6.4">0</tspan></text>
<line x1="655.5" y1="260.20" x2="658.7" y2="260.20" stroke="#333" stroke-width="1"/>
<text x="660.7" y="264.00" font-size="10" fill="#333333" stroke="#333333" stroke-width="0.25">10<tspan dy="-3.6" font-size="6.4">−1</tspan></text>
<text x="684.50" y="19.00" font-size="14.6" text-anchor="end" fill="#333333" stroke="#333333" stroke-width="0.25" textLength="74" lengthAdjust="spacingAndGlyphs" >C-rate (log)</text>
<line x1="81.30" y1="373.5" x2="81.30" y2="893.4" stroke="#dedede" stroke-width="1.2"/>
<line x1="158.53" y1="373.5" x2="158.53" y2="893.4" stroke="#dedede" stroke-width="1.2"/>
<line x1="235.76" y1="373.5" x2="235.76" y2="893.4" stroke="#dedede" stroke-width="1.2"/>
<line x1="312.99" y1="373.5" x2="312.99" y2="893.4" stroke="#dedede" stroke-width="1.2"/>
<line x1="390.22" y1="373.5" x2="390.22" y2="893.4" stroke="#dedede" stroke-width="1.2"/>
<line x1="467.45" y1="373.5" x2="467.45" y2="893.4" stroke="#dedede" stroke-width="1.2"/>
<line x1="544.68" y1="373.5" x2="544.68" y2="893.4" stroke="#dedede" stroke-width="1.2"/>
<line x1="621.91" y1="373.5" x2="621.91" y2="893.4" stroke="#dedede" stroke-width="1.2"/>
<line x1="48.4" y1="822.81" x2="626.9" y2="822.81" stroke="#dedede" stroke-width="1.2"/>
<line x1="48.4" y1="729.57" x2="626.9" y2="729.57" stroke="#dedede" stroke-width="1.2"/>
<line x1="48.4" y1="636.33" x2="626.9" y2="636.33" stroke="#dedede" stroke-width="1.2"/>
<line x1="48.4" y1="543.09" x2="626.9" y2="543.09" stroke="#dedede" stroke-width="1.2"/>
<line x1="48.4" y1="449.85" x2="626.9" y2="449.85" stroke="#dedede" stroke-width="1.2"/>
<circle cx="205.40" cy="445.30" r="10.4" fill="#7093f3"/>
<circle cx="253.40" cy="435.20" r="10.4" fill="#a9c6fd"/>
<circle cx="274.50" cy="501.50" r="10.4" fill="#7093f3"/>
<circle cx="364.50" cy="435.40" r="10.4" fill="#b40426"/>
<circle cx="349.40" cy="443.40" r="10.4" fill="#a9c6fd"/>
<circle cx="363.30" cy="455.00" r="10.4" fill="#ebd3c6"/>
<circle cx="387.50" cy="453.90" r="10.4" fill="#ebd3c6"/>
<path d="M396.50 472.00L411.70 487.20L396.50 502.40L381.30 487.20Z" fill="#efcfbf" stroke="#1a1a1a" stroke-width="1.1"/>
<circle cx="426.40" cy="487.40" r="10.4" fill="#a5c3fe"/>
<circle cx="411.10" cy="516.40" r="10.4" fill="#7093f3"/>
<circle cx="438.10" cy="519.60" r="10.4" fill="#a5c3fe"/>
<circle cx="426.90" cy="516.70" r="10.4" fill="#bb1b2c"/>
<circle cx="411.00" cy="548.70" r="10.4" fill="#7597f6"/>
<path d="M406.30 524.60L421.50 539.80L406.30 555.00L391.10 539.80Z" fill="#a5c3fe" stroke="#1a1a1a" stroke-width="1.1"/>
<circle cx="391.50" cy="543.00" r="10.4" fill="#e16751"/>
<circle cx="391.50" cy="534.00" r="10.4" fill="#a5c3fe"/>
<path d="M516.70 382.10L531.90 397.30L516.70 412.50L501.50 397.30Z" fill="#3c4ec2" stroke="#1a1a1a" stroke-width="1.1"/>
<circle cx="474.80" cy="474.30" r="10.4" fill="#3d50c3"/>
<path d="M600.80 481.80L616.00 497.00L600.80 512.20L585.60 497.00Z" fill="#bad0f8" stroke="#1a1a1a" stroke-width="1.1"/>
<circle cx="480.20" cy="524.50" r="10.4" fill="#7093f3"/>
<circle cx="475.30" cy="587.00" r="10.4" fill="#7093f3"/>
<circle cx="328.30" cy="503.90" r="10.4" fill="#7093f3"/>
<circle cx="338.60" cy="545.20" r="10.4" fill="#7093f3"/>
<circle cx="352.10" cy="556.00" r="10.4" fill="#7093f3"/>
<circle cx="325.30" cy="561.10" r="10.4" fill="#7093f3"/>
<circle cx="365.00" cy="586.10" r="10.4" fill="#7093f3"/>
<circle cx="334.10" cy="600.80" r="10.4" fill="#a5c3fe"/>
<circle cx="287.00" cy="589.40" r="10.4" fill="#7093f3"/>
<circle cx="166.70" cy="593.90" r="10.4" fill="#7093f3"/>
<path d="M228.90 564.70L244.10 579.90L228.90 595.10L213.70 579.90Z" fill="#7093f3" stroke="#1a1a1a" stroke-width="1.1"/>
<circle cx="245.50" cy="604.10" r="10.4" fill="#7093f3"/>
<circle cx="271.80" cy="617.80" r="10.4" fill="#7093f3"/>
<circle cx="107.90" cy="666.30" r="10.4" fill="#7093f3"/>
<circle cx="385.70" cy="671.50" r="10.4" fill="#a5c3fe"/>
<circle cx="484.10" cy="663.90" r="10.4" fill="#6a8bef"/>
<circle cx="514.20" cy="704.20" r="10.4" fill="#ebd3c6"/>
<circle cx="402.90" cy="726.10" r="10.4" fill="#ebd3c6"/>
<circle cx="445.30" cy="728.20" r="10.4" fill="#a5c3fe"/>
<circle cx="360.10" cy="763.20" r="10.4" fill="#7093f3"/>
<path d="M402.20 753.60L417.40 768.80L402.20 784.00L387.00 768.80Z" fill="#7093f3" stroke="#1a1a1a" stroke-width="1.1"/>
<circle cx="376.80" cy="813.40" r="10.4" fill="#a5c3fe"/>
<path d="M306.10 809.30L321.30 824.50L306.10 839.70L290.90 824.50Z" fill="#7093f3" stroke="#1a1a1a" stroke-width="1.1"/>
<circle cx="420.60" cy="857.20" r="10.4" fill="#3c4ec2"/>
<circle cx="546.10" cy="812.60" r="10.4" fill="#3c4ec2"/>
<path d="M75.00 854.70L90.20 869.90L75.00 885.10L59.80 869.90Z" fill="#7093f3" stroke="#1a1a1a" stroke-width="1.1"/>
<line x1="387.13" y1="373.5" x2="387.13" y2="893.4" stroke="#008000" stroke-opacity="0.65" stroke-width="1.6" stroke-dasharray="2.6 1.6"/>
<text x="205.40" y="449.60" font-size="12" text-anchor="middle" fill="#262626" stroke="#262626" stroke-width="0.2">[46]</text>
<text x="253.40" y="439.50" font-size="12" text-anchor="middle" fill="#262626" stroke="#262626" stroke-width="0.2">[44]</text>
<text x="274.50" y="505.80" font-size="12" text-anchor="middle" fill="#262626" stroke="#262626" stroke-width="0.2">[42]</text>
<text x="364.50" y="439.70" font-size="12" text-anchor="middle" fill="#262626" stroke="#262626" stroke-width="0.2">[13]</text>
<text x="349.40" y="447.70" font-size="12" text-anchor="middle" fill="#262626" stroke="#262626" stroke-width="0.2">[37]</text>
<text x="363.30" y="459.30" font-size="12" text-anchor="middle" fill="#262626" stroke="#262626" stroke-width="0.2">[34]</text>
<text x="387.50" y="458.20" font-size="12" text-anchor="middle" fill="#262626" stroke="#262626" stroke-width="0.2">[25]</text>
<text x="396.50" y="491.50" font-size="12" text-anchor="middle" fill="#262626" stroke="#262626" stroke-width="0.2">[28]</text>
<text x="426.40" y="491.70" font-size="12" text-anchor="middle" fill="#262626" stroke="#262626" stroke-width="0.2">[21]</text>
<text x="411.10" y="520.70" font-size="12" text-anchor="middle" fill="#262626" stroke="#262626" stroke-width="0.2">[23]</text>
<text x="447.60" y="528.20" font-size="12" text-anchor="middle" fill="#262626" stroke="#262626" stroke-width="0.2">[20]</text>
<text x="426.90" y="521.00" font-size="12" text-anchor="middle" fill="#262626" stroke="#262626" stroke-width="0.2">[21]</text>
<text x="422.60" y="555.10" font-size="12" text-anchor="middle" fill="#262626" stroke="#262626" stroke-width="0.2">[24]</text>
<text x="406.30" y="544.10" font-size="12" text-anchor="middle" fill="#262626" stroke="#262626" stroke-width="0.2">[25]</text>
<text x="379.20" y="550.00" font-size="12" text-anchor="middle" fill="#262626" stroke="#262626" stroke-width="0.2">[29]</text>
<text x="391.50" y="538.30" font-size="12" text-anchor="middle" fill="#262626" stroke="#262626" stroke-width="0.2">[30]</text>
<text x="391.50" y="558.70" font-size="12" text-anchor="middle" fill="#262626" stroke="#262626" stroke-width="0.2">[30]</text>
<text x="516.70" y="401.60" font-size="12" text-anchor="middle" fill="#262626" stroke="#262626" stroke-width="0.2">[13]</text>
<text x="474.80" y="478.60" font-size="12" text-anchor="middle" fill="#262626" stroke="#262626" stroke-width="0.2">[18]</text>
<text x="600.80" y="501.30" font-size="12" text-anchor="middle" fill="#262626" stroke="#262626" stroke-width="0.2">[11]</text>
<text x="480.20" y="528.80" font-size="12" text-anchor="middle" fill="#262626" stroke="#262626" stroke-width="0.2">[16]</text>
<text x="475.30" y="591.30" font-size="12" text-anchor="middle" fill="#262626" stroke="#262626" stroke-width="0.2">[17]</text>
<text x="328.30" y="508.20" font-size="12" text-anchor="middle" fill="#262626" stroke="#262626" stroke-width="0.2">[39]</text>
<text x="338.60" y="549.50" font-size="12" text-anchor="middle" fill="#262626" stroke="#262626" stroke-width="0.2">[18]</text>
<text x="352.10" y="560.30" font-size="12" text-anchor="middle" fill="#262626" stroke="#262626" stroke-width="0.2">[36]</text>
<text x="325.30" y="565.40" font-size="12" text-anchor="middle" fill="#262626" stroke="#262626" stroke-width="0.2">[40]</text>
<text x="365.00" y="590.40" font-size="12" text-anchor="middle" fill="#262626" stroke="#262626" stroke-width="0.2">[33]</text>
<text x="334.10" y="605.10" font-size="12" text-anchor="middle" fill="#262626" stroke="#262626" stroke-width="0.2">[38]</text>
<text x="287.00" y="593.70" font-size="12" text-anchor="middle" fill="#262626" stroke="#262626" stroke-width="0.2">[41]</text>
<text x="166.70" y="598.20" font-size="12" text-anchor="middle" fill="#262626" stroke="#262626" stroke-width="0.2">[47]</text>
<text x="228.90" y="584.20" font-size="12" text-anchor="middle" fill="#262626" stroke="#262626" stroke-width="0.2">[34]</text>
<text x="245.50" y="608.40" font-size="12" text-anchor="middle" fill="#262626" stroke="#262626" stroke-width="0.2">[45]</text>
<text x="271.80" y="622.10" font-size="12" text-anchor="middle" fill="#262626" stroke="#262626" stroke-width="0.2">[43]</text>
<text x="107.90" y="670.60" font-size="12" text-anchor="middle" fill="#262626" stroke="#262626" stroke-width="0.2">[48]</text>
<text x="385.70" y="675.80" font-size="12" text-anchor="middle" fill="#262626" stroke="#262626" stroke-width="0.2">[31]</text>
<text x="484.10" y="668.20" font-size="12" text-anchor="middle" fill="#262626" stroke="#262626" stroke-width="0.2">[15]</text>
<text x="514.20" y="708.50" font-size="12" text-anchor="middle" fill="#262626" stroke="#262626" stroke-width="0.2">[14]</text>
<text x="402.90" y="730.40" font-size="12" text-anchor="middle" fill="#262626" stroke="#262626" stroke-width="0.2">[26]</text>
<text x="445.30" y="732.50" font-size="12" text-anchor="middle" fill="#262626" stroke="#262626" stroke-width="0.2">[19]</text>
<text x="360.10" y="767.50" font-size="12" text-anchor="middle" fill="#262626" stroke="#262626" stroke-width="0.2">[35]</text>
<text x="402.20" y="773.10" font-size="12" text-anchor="middle" fill="#262626" stroke="#262626" stroke-width="0.2">[27]</text>
<text x="376.80" y="817.70" font-size="12" text-anchor="middle" fill="#262626" stroke="#262626" stroke-width="0.2">[32]</text>
<text x="306.10" y="828.80" font-size="12" text-anchor="middle" fill="#262626" stroke="#262626" stroke-width="0.2">[19]</text>
<text x="420.60" y="861.50" font-size="12" text-anchor="middle" fill="#262626" stroke="#262626" stroke-width="0.2">[22]</text>
<text x="546.10" y="816.90" font-size="12" text-anchor="middle" fill="#262626" stroke="#262626" stroke-width="0.2">[12]</text>
<text x="75.00" y="874.20" font-size="12" text-anchor="middle" fill="#262626" stroke="#262626" stroke-width="0.2">[49]</text>
<rect x="325" y="386.2" width="125" height="20.4" fill="#fff"/>
<text x="387.40" y="401.30" font-size="14.3" text-anchor="middle" fill="#008000" stroke="#008000" stroke-width="0.25" textLength="120.5" lengthAdjust="spacingAndGlyphs" >median: 298 Wh/kg</text>
<circle cx="96.3" cy="477.9" r="7.9" fill="#808080" stroke="#1a1a1a" stroke-width="1.1"/>
<path d="M96.30 504.20L107.30 515.20L96.30 526.20L85.30 515.20Z" fill="#808080" stroke="#1a1a1a" stroke-width="1.1"/>
<text x="112.40" y="482.80" font-size="16" text-anchor="start" fill="#666666" stroke="#666666" stroke-width="0.25" textLength="60.8" lengthAdjust="spacingAndGlyphs" >Coin cell</text>
<text x="112.40" y="520.40" font-size="16" text-anchor="start" fill="#666666" stroke="#666666" stroke-width="0.25" textLength="73.9" lengthAdjust="spacingAndGlyphs" >Pouch cell</text>
<rect x="48.4" y="373.5" width="578.50" height="519.90" fill="none" stroke="#5a5a5a" stroke-width="1.1"/>
<line x1="81.30" y1="893.4" x2="81.30" y2="896.4" stroke="#5a5a5a" stroke-width="1"/>
<text x="81.30" y="910.30" font-size="15.5" text-anchor="middle" fill="#333333" stroke="#333333" stroke-width="0.25" textLength="25.349999999999998" lengthAdjust="spacingAndGlyphs" >100</text>
<line x1="158.53" y1="893.4" x2="158.53" y2="896.4" stroke="#5a5a5a" stroke-width="1"/>
<text x="158.53" y="910.30" font-size="15.5" text-anchor="middle" fill="#333333" stroke="#333333" stroke-width="0.25" textLength="25.349999999999998" lengthAdjust="spacingAndGlyphs" >150</text>
<line x1="235.76" y1="893.4" x2="235.76" y2="896.4" stroke="#5a5a5a" stroke-width="1"/>
<text x="235.76" y="910.30" font-size="15.5" text-anchor="middle" fill="#333333" stroke="#333333" stroke-width="0.25" textLength="25.349999999999998" lengthAdjust="spacingAndGlyphs" >200</text>
<line x1="312.99" y1="893.4" x2="312.99" y2="896.4" stroke="#5a5a5a" stroke-width="1"/>
<text x="312.99" y="910.30" font-size="15.5" text-anchor="middle" fill="#333333" stroke="#333333" stroke-width="0.25" textLength="25.349999999999998" lengthAdjust="spacingAndGlyphs" >250</text>
<line x1="390.22" y1="893.4" x2="390.22" y2="896.4" stroke="#5a5a5a" stroke-width="1"/>
<text x="390.22" y="910.30" font-size="15.5" text-anchor="middle" fill="#333333" stroke="#333333" stroke-width="0.25" textLength="25.349999999999998" lengthAdjust="spacingAndGlyphs" >300</text>
<line x1="467.45" y1="893.4" x2="467.45" y2="896.4" stroke="#5a5a5a" stroke-width="1"/>
<text x="467.45" y="910.30" font-size="15.5" text-anchor="middle" fill="#333333" stroke="#333333" stroke-width="0.25" textLength="25.349999999999998" lengthAdjust="spacingAndGlyphs" >350</text>
<line x1="544.68" y1="893.4" x2="544.68" y2="896.4" stroke="#5a5a5a" stroke-width="1"/>
<text x="544.68" y="910.30" font-size="15.5" text-anchor="middle" fill="#333333" stroke="#333333" stroke-width="0.25" textLength="25.349999999999998" lengthAdjust="spacingAndGlyphs" >400</text>
<line x1="621.91" y1="893.4" x2="621.91" y2="896.4" stroke="#5a5a5a" stroke-width="1"/>
<text x="621.91" y="910.30" font-size="15.5" text-anchor="middle" fill="#333333" stroke="#333333" stroke-width="0.25" textLength="25.349999999999998" lengthAdjust="spacingAndGlyphs" >450</text>
<line x1="45.4" y1="822.81" x2="48.4" y2="822.81" stroke="#5a5a5a" stroke-width="1"/>
<text x="43.40" y="828.61" font-size="15.5" text-anchor="end" fill="#333333" stroke="#333333" stroke-width="0.25" textLength="16.9" lengthAdjust="spacingAndGlyphs" >60</text>
<line x1="45.4" y1="729.57" x2="48.4" y2="729.57" stroke="#5a5a5a" stroke-width="1"/>
<text x="43.40" y="735.37" font-size="15.5" text-anchor="end" fill="#333333" stroke="#333333" stroke-width="0.25" textLength="16.9" lengthAdjust="spacingAndGlyphs" >70</text>
<line x1="45.4" y1="636.33" x2="48.4" y2="636.33" stroke="#5a5a5a" stroke-width="1"/>
<text x="43.40" y="642.13" font-size="15.5" text-anchor="end" fill="#333333" stroke="#333333" stroke-width="0.25" textLength="16.9" lengthAdjust="spacingAndGlyphs" >80</text>
<line x1="45.4" y1="543.09" x2="48.4" y2="543.09" stroke="#5a5a5a" stroke-width="1"/>
<text x="43.40" y="548.89" font-size="15.5" text-anchor="end" fill="#333333" stroke="#333333" stroke-width="0.25" textLength="16.9" lengthAdjust="spacingAndGlyphs" >90</text>
<line x1="45.4" y1="449.85" x2="48.4" y2="449.85" stroke="#5a5a5a" stroke-width="1"/>
<text x="43.40" y="455.65" font-size="15.5" text-anchor="end" fill="#333333" stroke="#333333" stroke-width="0.25" textLength="25.349999999999998" lengthAdjust="spacingAndGlyphs" >100</text>
<text x="337.00" y="927.40" font-size="14.6" text-anchor="middle" fill="#333333" stroke="#333333" stroke-width="0.25" textLength="160" lengthAdjust="spacingAndGlyphs" >Specific energy (Wh/kg)</text>
<text x="0" y="0" font-size="14.6" text-anchor="middle" fill="#333333" stroke="#333333" stroke-width="0.25" textLength="229.5" lengthAdjust="spacingAndGlyphs" transform="translate(11.9 633.5) rotate(-90)">Normalized capacity retention (%)</text>
<text x="10.40" y="356.30" font-size="22" text-anchor="start" fill="#000" font-weight="bold" >b</text>
<rect x="640" y="373.8" width="15.700000000000045" height="519.5999999999999" fill="url(#cb)" stroke="#333" stroke-width="1"/>
<line x1="655.7" y1="870.56" x2="657.7" y2="870.56" stroke="#333" stroke-width="0.8"/>
<line x1="655.7" y1="850.96" x2="657.7" y2="850.96" stroke="#333" stroke-width="0.8"/>
<line x1="655.7" y1="833.98" x2="657.7" y2="833.98" stroke="#333" stroke-width="0.8"/>
<line x1="655.7" y1="819.00" x2="657.7" y2="819.00" stroke="#333" stroke-width="0.8"/>
<line x1="655.7" y1="717.46" x2="657.7" y2="717.46" stroke="#333" stroke-width="0.8"/>
<line x1="655.7" y1="665.90" x2="657.7" y2="665.90" stroke="#333" stroke-width="0.8"/>
<line x1="655.7" y1="629.32" x2="657.7" y2="629.32" stroke="#333" stroke-width="0.8"/>
<line x1="655.7" y1="600.94" x2="657.7" y2="600.94" stroke="#333" stroke-width="0.8"/>
<line x1="655.7" y1="577.76" x2="657.7" y2="577.76" stroke="#333" stroke-width="0.8"/>
<line x1="655.7" y1="558.16" x2="657.7" y2="558.16" stroke="#333" stroke-width="0.8"/>
<line x1="655.7" y1="541.18" x2="657.7" y2="541.18" stroke="#333" stroke-width="0.8"/>
<line x1="655.7" y1="526.20" x2="657.7" y2="526.20" stroke="#333" stroke-width="0.8"/>
<line x1="655.7" y1="424.66" x2="657.7" y2="424.66" stroke="#333" stroke-width="0.8"/>
<line x1="655.7" y1="512.80" x2="658.9000000000001" y2="512.80" stroke="#333" stroke-width="1"/>
<text x="660.9000000000001" y="516.60" font-size="10" fill="#333333" stroke="#333333" stroke-width="0.25">10<tspan dy="-3.6" font-size="6.4">0</tspan></text>
<line x1="655.7" y1="805.60" x2="658.9000000000001" y2="805.60" stroke="#333" stroke-width="1"/>
<text x="660.9000000000001" y="809.40" font-size="10" fill="#333333" stroke="#333333" stroke-width="0.25">10<tspan dy="-3.6" font-size="6.4">−1</tspan></text>
<text x="685.00" y="363.50" font-size="14.6" text-anchor="end" fill="#333333" stroke="#333333" stroke-width="0.25" textLength="74.5" lengthAdjust="spacingAndGlyphs" >C-rate (log)</text>
</svg></body></html>
